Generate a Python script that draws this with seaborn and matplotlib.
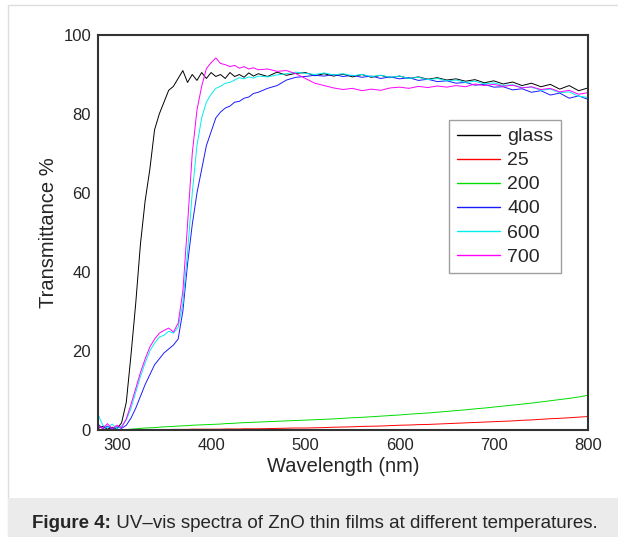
import numpy as np
import pandas as pd
import matplotlib.pyplot as plt
from matplotlib.patches import Rectangle
import seaborn as sns

sns.set_style('white')
plt.rcParams['font.family'] = ['Liberation Sans', 'DejaVu Sans']

# wavelength grid (nm): 5 nm steps in the UV edge, 10 nm steps after
wavelength = list(range(280, 451, 5)) + list(range(460, 801, 10))

glass = [0.4, 0.9, 0.2, 0.7, 0.3, 1.8, 7, 19, 32, 47, 58, 66, 76, 80, 83, 86, 87, 89,
         91, 88, 90, 88.5, 90.5, 89, 90.5, 89.5, 90, 89, 90.5, 89.5, 90, 89.3, 90.4, 89.6, 90.2,
         89.5, 90.6, 89.8, 90.3, 90.5, 89.7, 90.2, 89.6, 90.1, 89.4, 90.0, 89.3, 89.8, 89.2,
         89.6, 89.0, 89.4, 88.8, 89.2, 88.6, 88.9, 88.3, 88.7, 87.9, 88.4, 87.6, 88.1, 87.2,
         87.8, 86.9, 87.5, 86.3, 87.2, 85.9, 86.6]

t25 = [0.0, 0.1, 0.0, 0.1, 0.0, 0.1, 0.1, 0.1, 0.1, 0.1, 0.1, 0.1, 0.1, 0.1, 0.1, 0.1, 0.15, 0.15,
       0.15, 0.15, 0.2, 0.2, 0.2, 0.2, 0.2, 0.2, 0.2, 0.25, 0.25, 0.25, 0.25, 0.3, 0.3, 0.3, 0.3,
       0.35, 0.4, 0.45, 0.5, 0.5, 0.55, 0.6, 0.7, 0.75, 0.8, 0.9, 0.95, 1.0, 1.1, 1.2, 1.25,
       1.35, 1.4, 1.5, 1.6, 1.7, 1.8, 1.9, 2.0, 2.1, 2.2, 2.3, 2.45, 2.55, 2.7, 2.85, 2.95,
       3.1, 3.25, 3.4]

t200 = [0.0, 0.0, 0.0, 0.0, 0.0, 0.1, 0.1, 0.2, 0.3, 0.4, 0.5, 0.55, 0.6, 0.7, 0.8, 0.85, 0.9,
        1.0, 1.05, 1.1, 1.2, 1.25, 1.3, 1.35, 1.4, 1.45, 1.5, 1.6, 1.65, 1.7, 1.8, 1.85, 1.9,
        1.95, 2.0, 2.1, 2.2, 2.3, 2.4, 2.5, 2.6, 2.7, 2.8, 2.95, 3.1, 3.2, 3.35, 3.5, 3.65,
        3.8, 4.0, 4.15, 4.3, 4.5, 4.7, 4.9, 5.1, 5.35, 5.55, 5.8, 6.05, 6.3, 6.55, 6.8, 7.1,
        7.4, 7.7, 8.0, 8.35, 8.8]

t400 = [1.5, 0.3, 1.0, 0.2, 0.8, 0.4, 1.2, 3, 5.5, 8.5, 11.5, 14, 16.5, 18, 19.5, 20.5, 21.5,
        23, 30, 42, 52, 60, 66, 72, 75.5, 79, 80.5, 81.5, 82, 83, 83.2, 84, 84.3, 85.2, 85.5,
        86.5, 87.2, 88.6, 89.3, 89.5, 89.8, 89.6, 90.0, 89.5, 89.8, 89.3, 89.6, 89.0, 89.4,
        88.9, 89.2, 88.5, 88.8, 88.2, 88.4, 87.8, 88.0, 87.3, 87.5, 86.8, 86.9, 86.1, 86.4,
        85.5, 85.9, 84.8, 85.3, 84.0, 84.6, 83.7]

t600 = [4.0, 1.2, 0.5, 1.5, 0.3, 1.0, 2.5, 5.5, 9.5, 13.5, 17, 20, 22, 23.5, 24, 25, 24.5, 26,
        32, 45, 60, 72, 79, 83, 85, 86.5, 87, 87.8, 88, 88.6, 89.2, 88.9, 89.4, 89.1, 89.6,
        89.4, 89.9, 90.2, 90.6, 90.3, 90.0, 90.4, 89.9, 90.2, 89.7, 90.0, 89.5, 89.8, 89.3,
        89.6, 89.0, 89.3, 88.7, 89.0, 88.4, 88.6, 88.0, 88.3, 87.6, 87.9, 87.2, 87.4, 86.7,
        86.8, 86.0, 86.3, 85.4, 85.6, 84.5, 84.2]

t700 = [1.0, 0.4, 1.6, 0.3, 1.2, 0.6, 2.8, 6.5, 10.5, 14.5, 18, 21, 23, 24.5, 25.2, 25.8, 24.8,
        27, 35, 52, 70, 81, 87, 91.5, 93, 94.2, 92.8, 92.5, 92.0, 92.3, 91.6, 92.0, 91.4, 91.7,
        91.2, 91.4, 90.8, 91.0, 90.2, 89.0, 87.8, 87.2, 86.6, 86.2, 86.5, 85.9, 86.3, 86.0,
        86.6, 86.8, 86.5, 87.0, 86.7, 87.1, 86.8, 87.2, 86.9, 87.6, 87.2, 87.5, 87.0, 87.3,
        86.6, 86.9, 86.2, 86.5, 85.6, 86.0, 85.0, 85.4]

series = {'glass': glass, '25': t25, '200': t200, '400': t400, '600': t600, '700': t700}
colors = {'glass': '#000000', '25': '#ff0000', '200': '#00dd00',
          '400': '#1a1aff', '600': '#00eeee', '700': '#ff00ff'}

fig = plt.figure(figsize=(6.18, 5.37), dpi=100)
ax = fig.add_axes([0.1586, 0.1993, 0.7929, 0.7355])

for name, vals in series.items():
    sns.lineplot(x=wavelength, y=vals, ax=ax, color=colors[name], lw=0.7, label=name)

ax.set_xlim(280, 800)
ax.set_ylim(0, 100)
ax.set_xticks([300, 400, 500, 600, 700, 800])
ax.set_yticks([0, 20, 40, 60, 80, 100])
ax.tick_params(length=0, labelsize=12)
ax.tick_params(axis='x', pad=6)
ax.tick_params(axis='y', pad=5)
for sp in ax.spines.values():
    sp.set_color('#333333')
    sp.set_linewidth(1.5)
ax.set_xlabel('Wavelength (nm)', fontsize=14.5, labelpad=3)
ax.set_ylabel('Transmittance %', fontsize=14.5, labelpad=4)

leg = ax.legend(loc='upper left', bbox_to_anchor=(449 / 618, 1 - 120 / 537),
                bbox_transform=fig.transFigure, fontsize=14, frameon=True, fancybox=False,
                handlelength=2.2, handletextpad=0.4, labelspacing=0.33, borderpad=0.4,
                borderaxespad=0)
leg.get_frame().set_edgecolor('#888888')
leg.get_frame().set_linewidth(1.0)
for h in leg.get_lines():
    h.set_linewidth(1.0)

# outer border and caption panel
fig.patches.append(Rectangle((8 / 618, 0), 1, 1 - 5 / 537, transform=fig.transFigure,
                             fill=False, edgecolor='#dddddd', lw=1))
fig.patches.append(Rectangle((8 / 618, 0), 1, 39 / 537, transform=fig.transFigure,
                             facecolor='#ebebeb', edgecolor='none'))
cap = fig.text(32 / 618, 1 - 523 / 537, 'Figure 4:', fontsize=13.5, fontweight='bold',
               va='center', zorder=5)
fig.canvas.draw()
x1 = cap.get_window_extent().x1 / fig.bbox.width
fig.text(x1, 1 - 523 / 537, ' UV\u2013vis spectra of ZnO thin films at different temperatures.',
         fontsize=13.5, va='center', zorder=5)

fig.savefig('out.png', dpi=100)
